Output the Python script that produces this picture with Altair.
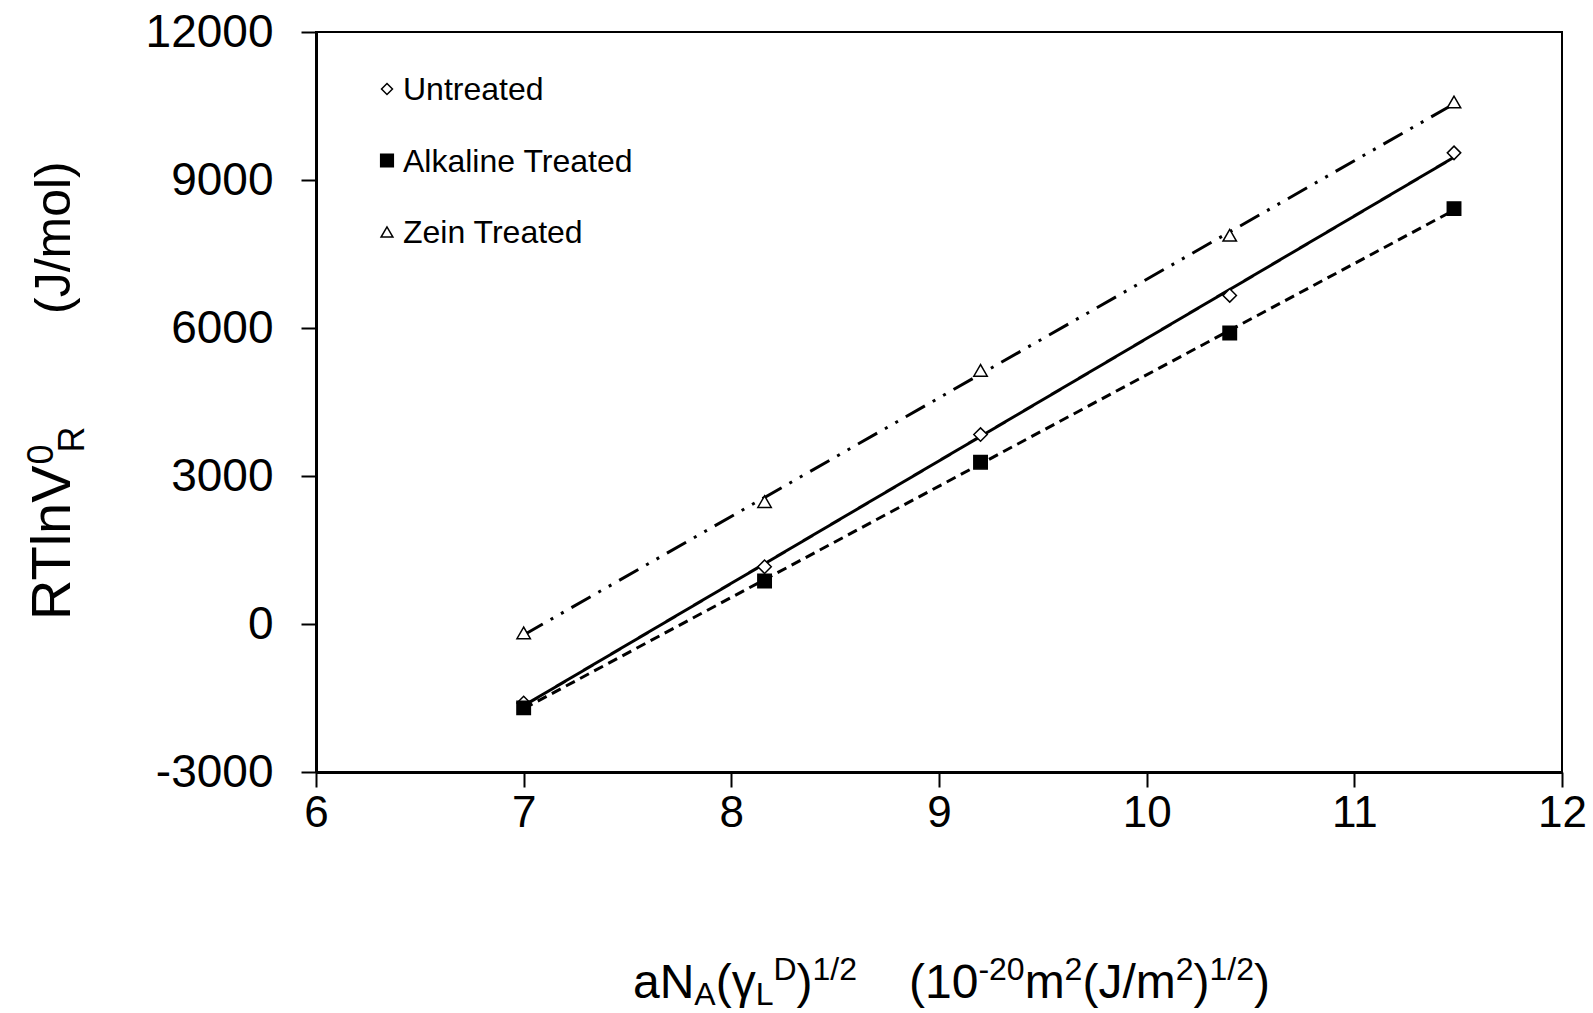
import altair as alt
import pandas as pd

# ---- data ----
x_vals = [7.0, 8.16, 9.2, 10.4, 11.48]
untreated = [-1600, 1160, 3840, 6660, 9550]
alkaline = [-1700, 870, 3280, 5900, 8420]
zein = [-180, 2480, 5140, 7880, 10580]
series_names = ["Untreated", "Alkaline Treated", "Zein Treated"]
series_shapes = ["diamond", "square", "triangle-up"]
series_fills = ["white", "black", "white"]
x_ticks = [6, 7, 8, 9, 10, 11, 12]
y_ticks = [-3000, 0, 3000, 6000, 9000, 12000]

rows = []
for name, vals in zip(series_names, [untreated, alkaline, zein]):
    for xv, yv in zip(x_vals, vals):
        rows.append({"series": name, "x": xv, "y": yv})
df = pd.DataFrame(rows)

W, H = 1246, 740
FONT = "Liberation Sans, Arial, sans-serif"

xs = alt.Scale(domain=[6, 12], nice=False, zero=False)
ys = alt.Scale(domain=[-3000, 12000], nice=False, zero=False)

x_axis = alt.Axis(values=x_ticks, title=None, grid=False, labelFontSize=44, labelFont=FONT,
                  labelColor="black", tickSize=15, tickWidth=2, tickColor="black",
                  domainWidth=3, domainColor="black", labelPadding=4, labelFlush=False,
                  labelOverlap=False)
y_axis = alt.Axis(values=y_ticks, title=None, grid=False, labelFontSize=46, labelFont=FONT,
                  labelColor="black", tickSize=15, tickWidth=2, tickColor="black",
                  domainWidth=3, domainColor="black", labelPadding=28,
                  labelExpr="'' + datum.value", labelOverlap=False)

base = alt.Chart(df)

lines = base.transform_regression("x", "y", groupby=["series"]).transform_calculate(
    style="datum.series"
).mark_line(color="black", strokeWidth=3).encode(
    x=alt.X("x:Q", scale=xs, axis=x_axis),
    y=alt.Y("y:Q", scale=ys, axis=y_axis),
    strokeDash=alt.StrokeDash("style:N",
                              scale=alt.Scale(domain=series_names,
                                              range=[[1, 0], [10, 6], [22, 9, 3, 9, 3, 9]]),
                              legend=None),
)

points = base.mark_point(filled=True, size=180, stroke="black", strokeWidth=1.5, opacity=1).encode(
    x=alt.X("x:Q", scale=xs, axis=x_axis),
    y=alt.Y("y:Q", scale=ys, axis=y_axis),
    shape=alt.Shape("series:N", scale=alt.Scale(domain=series_names, range=series_shapes),
                    legend=None),
    fill=alt.Fill("series:N", scale=alt.Scale(domain=series_names, range=series_fills),
                  legend=None),
)

# ---- rich-text axis titles assembled from pieces ----
ARIAL = {"a": 556, "N": 722, "A": 667, "(": 333, ")": 333, "γ": 500, "L": 556, "D": 722,
         "1": 556, "/": 278, "2": 556, " ": 278, "0": 556, "-": 333, "m": 833, "J": 500,
         "R": 722, "T": 611, "l": 222, "n": 556, "V": 667, "o": 556}


def tw(s, fs):
    return sum(ARIAL[c] for c in s) * fs / 1000.0


def piece(s, px, py, fs, angle=0, baseline="alphabetic"):
    return alt.Chart(pd.DataFrame({"t": [s]})).mark_text(
        align="left", baseline=baseline, fontSize=fs, font=FONT, color="black", angle=angle
    ).encode(x=alt.value(px), y=alt.value(py), text="t:N")


extra_layers = []

# legend (inside plot, top-left)
leg_sizes = [120, 160, 140]
for i, (name, shp, fil, sz) in enumerate(zip(series_names, series_shapes, series_fills, leg_sizes)):
    ry = 57 + i * 71.5
    extra_layers.append(
        alt.Chart(pd.DataFrame({"series": [name]})).mark_point(
            shape=shp, filled=True, fill=fil, stroke="black", strokeWidth=1.5, size=sz, opacity=1
        ).encode(x=alt.value(71), y=alt.value(ry))
    )
    extra_layers.append(piece(name, 87, ry + 1, 32, baseline="middle"))

# x title
FX, fx = 48, 32
base_y = 966
sup_y = base_y - 18
sub_y = base_y + 7
x_pieces = [("aN", "m"), ("A", "b"), ("(γ", "m"), ("L", "b"), ("D", "p"), (")", "m"),
            ("1/2", "p"), ("GAP", "g"), ("(10", "m"), ("-20", "p"), ("m", "m"), ("2", "p"),
            ("(J/m", "m"), ("2", "p"), (")", "m"), ("1/2", "p"), (")", "m")]
cx = 317
for s, k in x_pieces:
    if k == "g":
        cx += 52
        continue
    fs = FX if k == "m" else fx
    yy = base_y if k == "m" else (sup_y if k == "p" else sub_y)
    extra_layers.append(piece(s, cx, yy, fs))
    cx += tw(s, fs)

# y title (rotated)
FY, fy = 56, 36
bx = -246
cy = 588
extra_layers.append(piece("RTlnV", bx, cy, FY, 270))
cy -= tw("RTlnV", FY)
extra_layers.append(piece("0", bx - 17, cy, fy, 270))
cy -= tw("0", fy) * 0.6
extra_layers.append(piece("R", bx + 14, cy, fy, 270))
extra_layers.append(piece("(J/mol)", bx, 282, 50, 270))

chart = alt.layer(lines, points, *extra_layers).properties(
    width=W, height=H,
    autosize=alt.AutoSizeParams(type="none"),
    padding={"left": 316, "top": 32, "right": 31, "bottom": 241},
).configure(background="white").configure_view(stroke="black", strokeWidth=2)

chart.save("out.html", embed_options={"renderer": "svg", "actions": False})
